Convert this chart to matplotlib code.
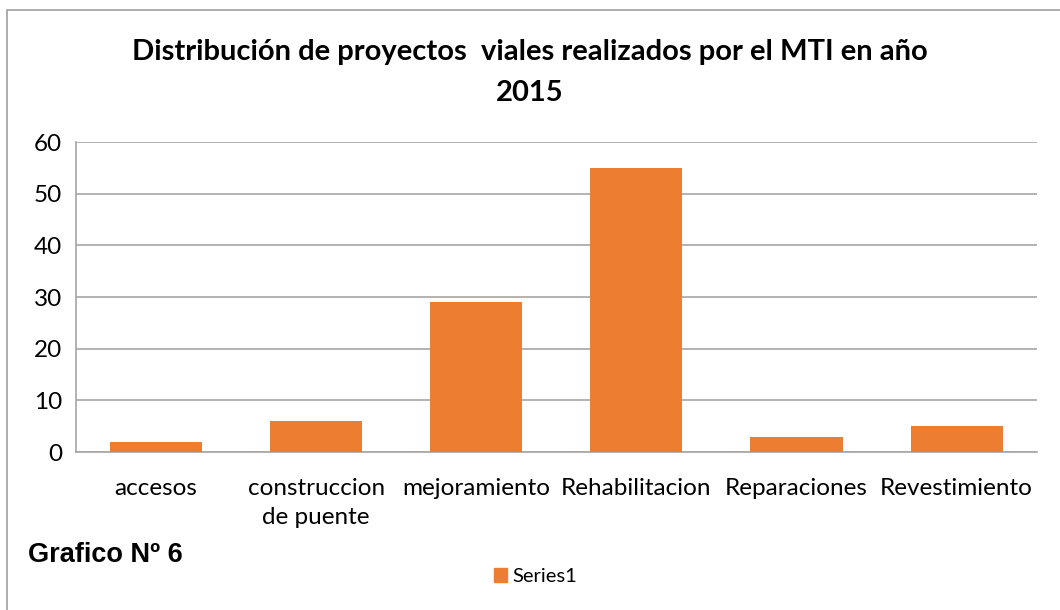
import matplotlib.pyplot as plt
from matplotlib.patches import Rectangle, Patch

categories = ['accesos', 'construccion\nde puente', 'mejoramiento', 'Rehabilitacion',
              'Reparaciones', 'Revestimiento']
values = [2, 6, 29, 55, 3, 5]
yticks = [0, 10, 20, 30, 40, 50, 60]

bar_color = '#ED7D31'
grid_color = '#A6A6A6'
font = ['Lato', 'DejaVu Sans']

fig = plt.figure(figsize=(10.6, 6.1), dpi=100)
ax = fig.add_axes([0.0717, 0.259, 0.9063, 0.508])

x = list(range(len(categories)))
ax.bar(x, values, width=0.575, color=bar_color, zorder=3)
ax.set_xlim(-0.5, len(categories) - 0.5)
ax.set_ylim(0, 60)
ax.set_yticks(yticks)
ax.set_yticklabels([str(v) for v in yticks], fontsize=17.5, family=font)
ax.set_xticks(x)
ax.set_xticklabels(categories, fontsize=17.5, family=font, linespacing=1.45)
ax.tick_params(axis='y', length=0, pad=10)
ax.tick_params(axis='x', length=0, pad=19)
ax.yaxis.grid(True, color=grid_color, linewidth=1.2, zorder=0)
for side in ['top', 'right']:
    ax.spines[side].set_visible(False)
for side in ['left', 'bottom']:
    ax.spines[side].set_color(grid_color)
    ax.spines[side].set_linewidth(1.2)

fig.text(0.5, 0.881, 'Distribución de proyectos  viales realizados por el MTI en año\n2015',
         ha='center', va='center', fontsize=21, fontweight='bold', family=font, linespacing=1.75)
fig.text(0.026, 0.09, 'Grafico Nº 6', ha='left', va='center', fontsize=19.5, fontweight='bold',
         family=['Liberation Sans', 'DejaVu Sans'])

handles = [Patch(color=bar_color, label='Series1')]
fig.legend(handles=handles, loc='center', bbox_to_anchor=(0.505, 0.055), frameon=False,
           prop={'family': font, 'size': 14.5}, handlelength=0.65, handleheight=0.65,
           handletextpad=0.25)

fig.patches.append(Rectangle((0.0066, -0.1), 1.1, 1.0836, transform=fig.transFigure,
                             fill=False, edgecolor='#A0A0A0', linewidth=1.2))

fig.savefig('out.png', dpi=100)
